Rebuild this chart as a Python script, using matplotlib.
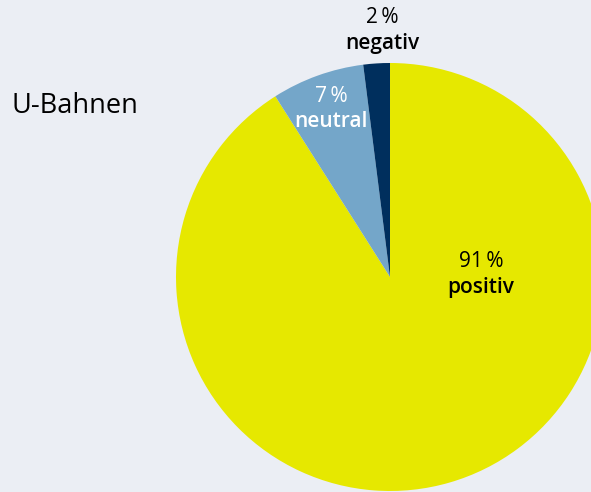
import matplotlib.pyplot as plt

# data
categories = ['positiv', 'neutral', 'negativ']
shares = [91, 7, 2]
colors = ['#E6E800', '#74A6C9', '#002F5D']
title = 'U-Bahnen'

BG = '#EBEEF4'
plt.rcParams['font.family'] = ['Open Sans', 'DejaVu Sans']

fig = plt.figure(figsize=(5.91, 4.92), dpi=100, facecolor=BG)
ax = fig.add_axes([0, 0, 1, 1])
ax.set_facecolor(BG)

# pie in pixel coordinates, centre is partly off the right edge
center = (390, 215)
radius = 214
ax.pie(shares, colors=colors, startangle=90, counterclock=False,
       center=center, radius=radius, frame=True,
       wedgeprops=dict(linewidth=0))
ax.set_xlim(0, 591)
ax.set_ylim(0, 492)
ax.set_aspect('equal')
ax.axis('off')

# baseline positions (pixels) for the two label lines and text colours
label_x = [481, 331, 382]
pct_y = [225, 390, 469]
name_y = [199, 365, 443]
text_colors = ['black', 'white', 'black']
for cat, val, x, yp, yn, tc in zip(categories, shares, label_x, pct_y,
                                   name_y, text_colors):
    ax.text(x, yp, f'{val}\u2009%', ha='center', va='baseline',
            fontsize=15, fontweight='normal', color=tc)
    ax.text(x, yn, cat, ha='center', va='baseline',
            fontsize=15, fontweight='semibold', color=tc)

ax.text(12, 379, title, ha='left', va='baseline', fontsize=19.5,
        fontweight='medium', color='black')

fig.savefig('out.png', dpi=100, facecolor=BG)
